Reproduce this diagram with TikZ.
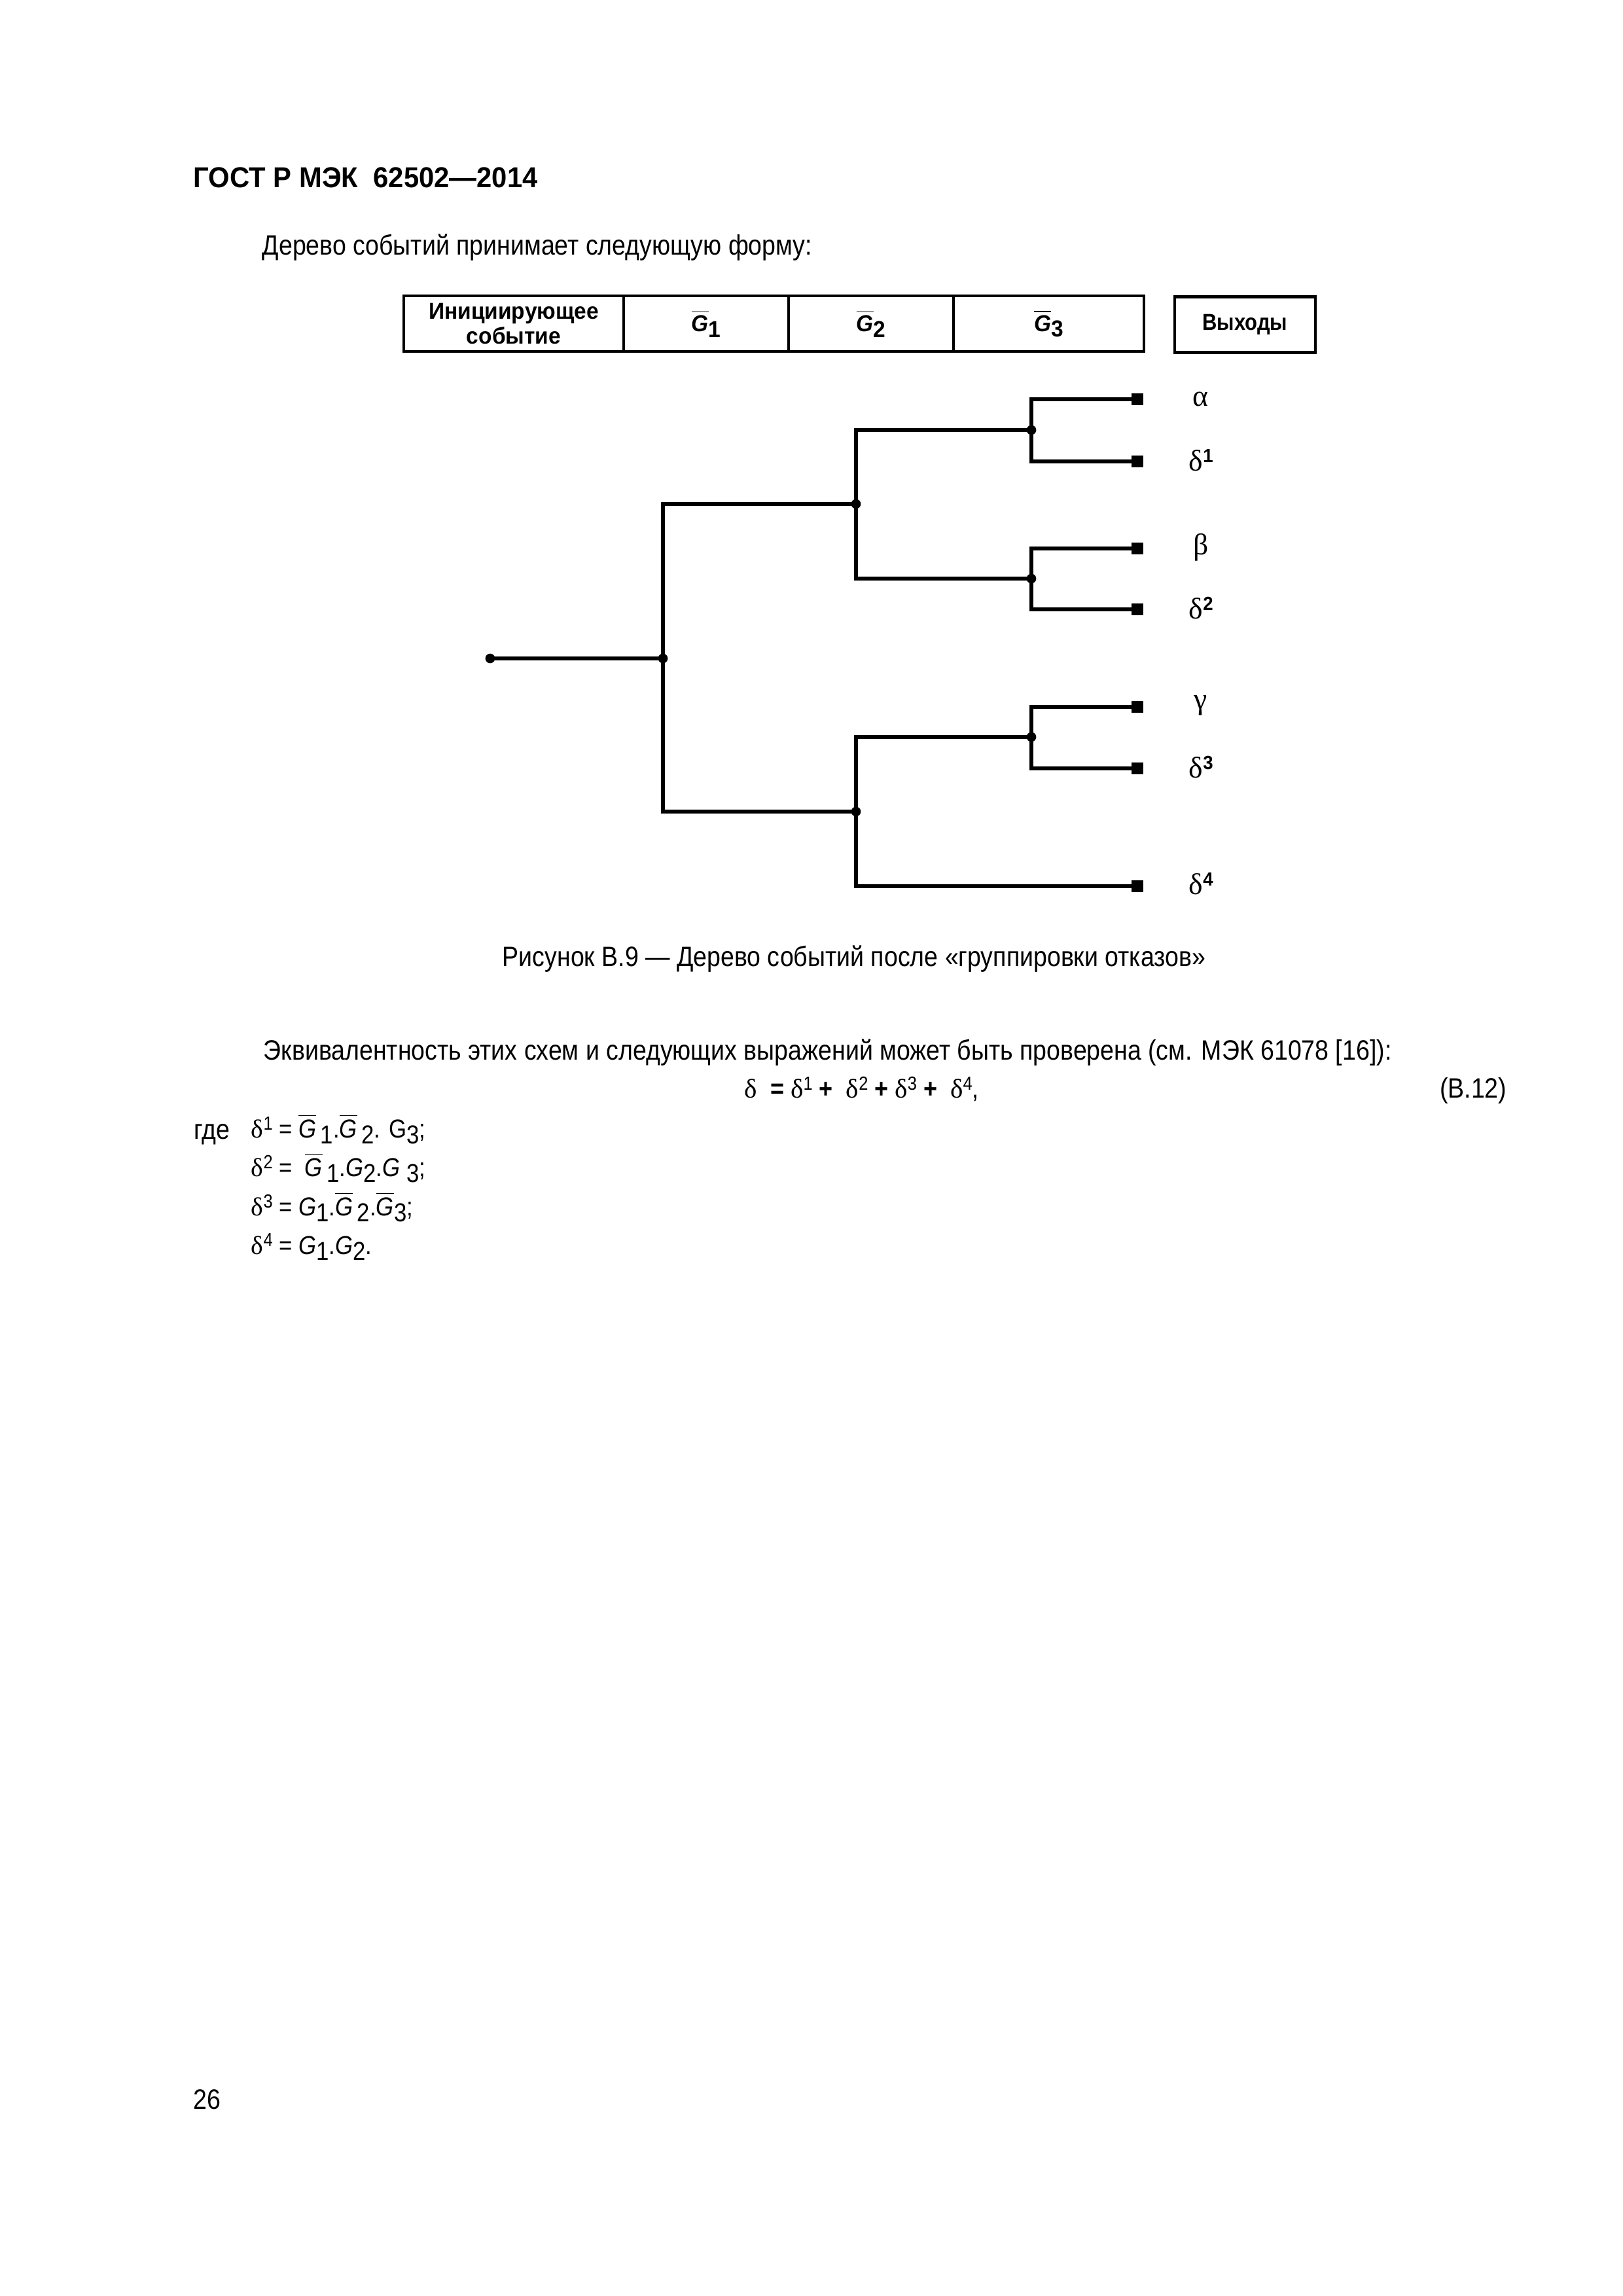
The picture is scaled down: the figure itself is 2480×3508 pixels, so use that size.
\documentclass[tikz,border=0pt]{standalone}
\usepackage{fontspec}
\setmainfont{Liberation Sans}[FakeStretch=0.877]
\newfontfamily\bsans{Liberation Sans}[FakeStretch=0.95]
\newfontfamily\grfont{Liberation Serif}
\newcommand\gr[1]{{\grfont #1}}
\newcommand\Gb{$\overline{\hbox{\itshape G}}$}
\newcommand\Gbb{$\overline{\hbox{\bsans\bfseries\itshape G}}$}
\newcommand\sbs[1]{\raisebox{-0.45ex}{#1}}
\newcommand\sps[1]{\raisebox{0.55ex}{\fontsize{7}{8}\selectfont #1}}
\tikzset{
  tl/.style={line width=0.45mm},
  jdot/.style={circle,fill,inner sep=0pt,minimum size=1.25mm},
  leaf/.style={rectangle,fill,inner sep=0pt,minimum size=1.5mm},
  cell/.style={draw,line width=0.38mm,minimum height=7.2mm,inner sep=0pt,align=center,font=\fontsize{8.5}{7.5}\selectfont\bsans\bfseries},
  lab/.style={anchor=west,inner sep=0pt,font=\fontsize{11}{12}\selectfont},
  txt/.style={anchor=base west,inner sep=0pt,font=\fontsize{10.3}{12}\selectfont},
  fml/.style={anchor=base west,inner sep=0pt,font=\fontsize{9.55}{11}\selectfont}
}
\begin{document}
\begin{tikzpicture}[x=0.0846774mm,y=-0.0846774mm]
\useasboundingbox (0,0) rectangle (2480,3508);
% header
\node[txt,font=\fontsize{10.6}{12}\selectfont\bsans\bfseries] (hdr) at (295,286) {ГОСТ Р МЭК\ \ 62502—2014};
\node[txt] (intro) at (400,389) {Дерево событий принимает следующую форму:};
% table
\node[cell,minimum width=28.45mm] (c0) at (785,494.5) {Инициирующее\\событие};
\node[cell,minimum width=21.34mm] (c1) at (1079,494.5) {\Gbb\sbs{1}};
\node[cell,minimum width=21.34mm] (c2) at (1331,494.5) {\Gbb\sbs{2}};
\node[cell,minimum width=24.64mm] (c3) at (1602.5,494.5) {\Gbb\sbs{3}};
\node[cell,minimum width=18.2mm,font=\fontsize{8.5}{7.5}\selectfont\bfseries] (out) at (1902.5,496) {Выходы};
% tree
\node[jdot] (S) at (749,1006) {};
\node[jdot] (J1) at (1013,1006) {};
\node[jdot] (J2a) at (1308,770) {};
\node[jdot] (J2b) at (1308,1240) {};
\node[jdot] (J3a) at (1576,657) {};
\node[jdot] (J3b) at (1576,884) {};
\node[jdot] (J3c) at (1576,1126) {};
\node[leaf] (L1) at (1738,610) {};
\node[leaf] (L2) at (1738,705) {};
\node[leaf] (L3) at (1738,838) {};
\node[leaf] (L4) at (1738,931) {};
\node[leaf] (L5) at (1738,1080) {};
\node[leaf] (L6) at (1738,1174) {};
\node[leaf] (L7) at (1738,1354) {};
\draw[tl] (S.center) -- (J1.center);
\draw[tl] (J1.center) |- (J2a.center);
\draw[tl] (J1.center) |- (J2b.center);
\draw[tl] (J2a.center) |- (J3a.center);
\draw[tl] (J2a.center) |- (J3b.center);
\draw[tl] (J2b.center) |- (J3c.center);
\draw[tl] (J2b.center) |- (L7.center);
\draw[tl] (J3a.center) |- (L1.center);
\draw[tl] (J3a.center) |- (L2.center);
\draw[tl] (J3b.center) |- (L3.center);
\draw[tl] (J3b.center) |- (L4.center);
\draw[tl] (J3c.center) |- (L5.center);
\draw[tl] (J3c.center) |- (L6.center);
\node[lab] (a) at (1822,610) {\gr{α}};
\node[lab] (d1) at (1816,703) {\gr{δ}\sps{\bsans\bfseries 1}};
\node[lab] (b) at (1823,836) {\gr{β}};
\node[lab] (d2) at (1816,929) {\gr{δ}\sps{\bsans\bfseries 2}};
\node[lab] (g) at (1824,1078) {\gr{γ}};
\node[lab] (d3) at (1816,1172) {\gr{δ}\sps{\bsans\bfseries 3}};
\node[lab] (d4) at (1816,1350) {\gr{δ}\sps{\bsans\bfseries 4}};
% caption
\node[txt] (cap) at (767,1476) {Рисунок В.9 — Дерево событий после «группировки отказов»};
% text
\node[txt] (eq) at (402,1619) {Эквивалентность этих схем и следующих выражений может быть проверена (см. МЭК 61078 [16]):};
\node[fml,font=\fontsize{9.9}{11}\selectfont] (b12) at (1137,1677) {\gr{δ}\ \ \textbf{=} \gr{δ}\sps{1} \textbf{+}\ \ \gr{δ}\sps{2} \textbf{+} \gr{δ}\sps{3} \textbf{+}\ \ \gr{δ}\sps{4},};
\node[txt,anchor=base east] (b12n) at (2303,1677) {(В.12)};
\node[txt] (gde) at (296,1740) {где};
\node[fml] (f1) at (383,1738) {\gr{δ}\sps{1} = \Gb\,\sbs{1}.\Gb\,\sbs{2}. G\sbs{3};};
\node[fml] (f2) at (383,1797) {\gr{δ}\sps{2} = \ \Gb\,\sbs{1}.\textit{G}\sbs{2}.\textit{G}\ \sbs{3};};
\node[fml] (f3) at (383,1857) {\gr{δ}\sps{3} = \textit{G}\sbs{1}.\Gb\,\sbs{2}.\Gb\sbs{3};};
\node[fml] (f4) at (383,1916) {\gr{δ}\sps{4} = \textit{G}\sbs{1}.\textit{G}\sbs{2}.};
% page number
\node[txt] (pg) at (295,3222) {26};
\end{tikzpicture}
\end{document}
